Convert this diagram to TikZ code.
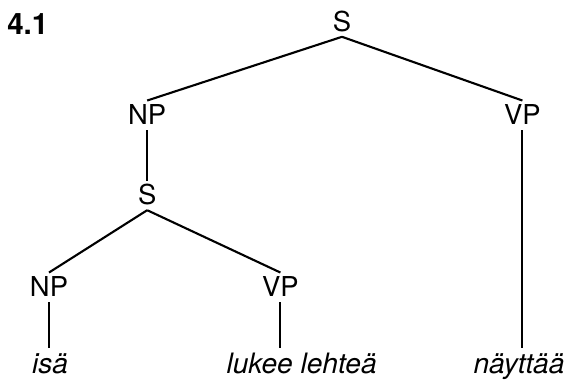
\documentclass[tikz,border=0pt]{standalone}
\usepackage{fontspec}
\setmainfont{TeX Gyre Heros}
\tikzset{br/.style={line width=1.5pt},
  cat/.style={anchor=base, inner sep=3.5pt, text height=13.7pt, text depth=0pt, font=\fontsize{19.5}{22}\selectfont},
  wd/.style={anchor=base, inner sep=3pt, text height=14.6pt, text depth=0pt, font=\fontsize{20}{24}\selectfont\itshape}}

\begin{document}
\begin{tikzpicture}
  \useasboundingbox (0,0) rectangle (14.25,9.5);
  \node[anchor=base west, inner sep=0pt, font=\fontsize{21}{24}\selectfont\bfseries] (num) at (0.175,8.625) {4.1};
  % categories
  \node[cat] (s0) at (8.55,8.71) {S};
  \node[cat] (np1) at (3.68,6.375) {NP};
  \node[cat] (vp1) at (13.06,6.375) {VP};
  \node[cat] (s1) at (3.68,4.375) {S};
  \node[cat] (np2) at (1.225,2.075) {NP};
  \node[cat] (vp2) at (7.01,2.075) {VP};
  % words
  \node[wd] (w1) at (1.25,0.17) {isä};
  \node[wd] (w2) at (7.54,0.17) {lukee lehteä};
  \node[wd] (w3) at (12.975,0.17) {näyttää};
  % branches
  \draw[br] (s0.south) -- (np1.north);
  \draw[br] (s0.south) -- (vp1.north);
  \draw[br] (np1.south) -- (s1.north);
  \draw[br] (s1.south) -- (np2.north);
  \draw[br] (s1.south) -- (vp2.north);
  \draw[br] (np2.south) -- (np2.south |- w1.north);
  \draw[br] (vp2.south) -- (vp2.south |- w2.north);
  \draw[br] (vp1.south) -- (vp1.south |- w3.north);
\end{tikzpicture}
\end{document}
